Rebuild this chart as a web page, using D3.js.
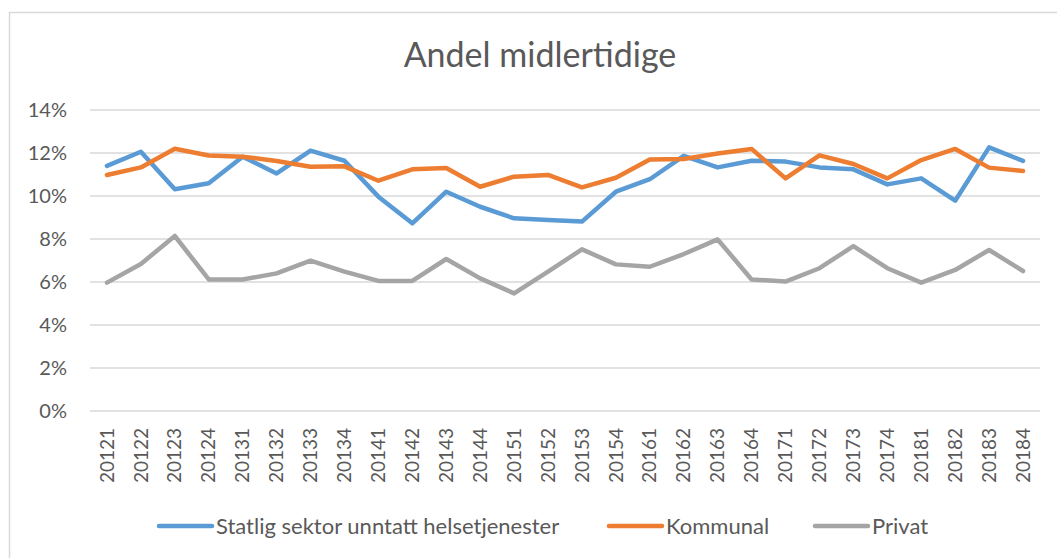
<!DOCTYPE html>
<html>
<head>
<meta charset="utf-8">
<script src="https://cdn.jsdelivr.net/npm/d3@7"></script>
<style>
  body { margin: 0; background: #fff; }
  text { font-family: Lato, "Open Sans", sans-serif; fill: #595959; }
</style>
</head>
<body>
<div id="chart"></div>
<script>
var quarters = ["20121","20122","20123","20124","20131","20132","20133","20134",
  "20141","20142","20143","20144","20151","20152","20153","20154",
  "20161","20162","20163","20164","20171","20172","20173","20174",
  "20181","20182","20183","20184"];

var statlig = [11.40,12.06,10.31,10.59,11.83,11.05,12.11,11.64,
  9.97,8.73,10.20,9.50,8.96,8.88,8.81,10.20,
  10.78,11.87,11.33,11.64,11.60,11.33,11.24,10.54,
  10.82,9.78,12.26,11.63];

var kommunal = [10.98,11.33,12.20,11.88,11.83,11.63,11.36,11.38,
  10.71,11.24,11.30,10.43,10.90,10.98,10.40,10.85,
  11.70,11.72,11.98,12.19,10.82,11.89,11.49,10.82,
  11.67,12.19,11.32,11.16];

var privat = [5.97,6.84,8.14,6.12,6.12,6.40,6.99,6.48,
  6.05,6.05,7.07,6.17,5.47,6.48,7.52,6.82,
  6.71,7.30,7.98,6.12,6.02,6.64,7.67,6.64,
  5.97,6.56,7.49,6.51];

var yTicks = [0, 2, 4, 6, 8, 10, 12, 14];

var seriesNames = ["Statlig sektor unntatt helsetjenester", "Kommunal", "Privat"];
var colors = ["#5b9bd5", "#ed7d31", "#a5a5a5"];
var allSeries = [statlig, kommunal, privat];

var W = 1057, H = 558;
var svg = d3.select("#chart").append("svg")
    .attr("width", W)
    .attr("height", H);

// chart frame
svg.append("rect")
    .attr("x", 9.5).attr("y", 12.5)
    .attr("width", 1060).attr("height", 560)
    .attr("fill", "none")
    .attr("stroke", "#d9d9d9")
    .attr("stroke-width", 1.5);

svg.append("text")
    .attr("x", 540).attr("y", 67)
    .attr("text-anchor", "middle")
    .style("font-size", "34px")
    .text("Andel midlertidige");

var x = d3.scaleBand()
    .domain(quarters)
    .range([90, 1040]);

var y = d3.scaleLinear()
    .domain([0, 14])
    .range([411, 110]);

// gridlines
svg.append("g")
    .selectAll("line")
    .data(yTicks)
    .join("line")
    .attr("x1", 90).attr("x2", 1040)
    .attr("y1", d => y(d)).attr("y2", d => y(d))
    .attr("stroke", "#d9d9d9")
    .attr("stroke-width", 1.5);

var yAxis = d3.axisLeft(y)
    .tickValues(yTicks)
    .tickFormat(d => d + "%")
    .tickSize(0)
    .tickPadding(0);

svg.append("g")
    .attr("transform", "translate(67,0)")
    .call(yAxis)
    .call(g => g.select(".domain").remove())
    .selectAll("text")
    .style("font-size", "20px")
    .attr("fill", "#595959");

var xAxis = d3.axisBottom(x).tickSize(0);

svg.append("g")
    .attr("transform", "translate(0,420)")
    .call(xAxis)
    .call(g => g.select(".domain").remove())
    .selectAll("text")
    .style("font-size", "19px")
    .attr("fill", "#595959")
    .attr("text-anchor", "end")
    .attr("transform", "rotate(-90)")
    .attr("x", -8)
    .attr("y", 0)
    .attr("dy", "0.35em");

var line = d3.line()
    .x((d, i) => x(quarters[i]) + x.bandwidth() / 2)
    .y(d => y(d));

svg.append("g")
    .selectAll("path")
    .data(allSeries)
    .join("path")
    .attr("d", d => line(d))
    .attr("fill", "none")
    .attr("stroke", (d, i) => colors[i])
    .attr("stroke-width", 4.5)
    .attr("stroke-linejoin", "round")
    .attr("stroke-linecap", "round");

// legend
var legendX = [159, 609, 815];
var leg = svg.append("g")
    .selectAll("g")
    .data(seriesNames)
    .join("g")
    .attr("transform", (d, i) => "translate(" + legendX[i] + ",526)");

leg.append("line")
    .attr("x1", 0).attr("x2", 53)
    .attr("stroke", (d, i) => colors[i])
    .attr("stroke-width", 4.5)
    .attr("stroke-linecap", "round");

leg.append("text")
    .attr("x", 57)
    .attr("dy", "0.35em")
    .style("font-size", "22px")
    .text(d => d);
</script>
</body>
</html>
